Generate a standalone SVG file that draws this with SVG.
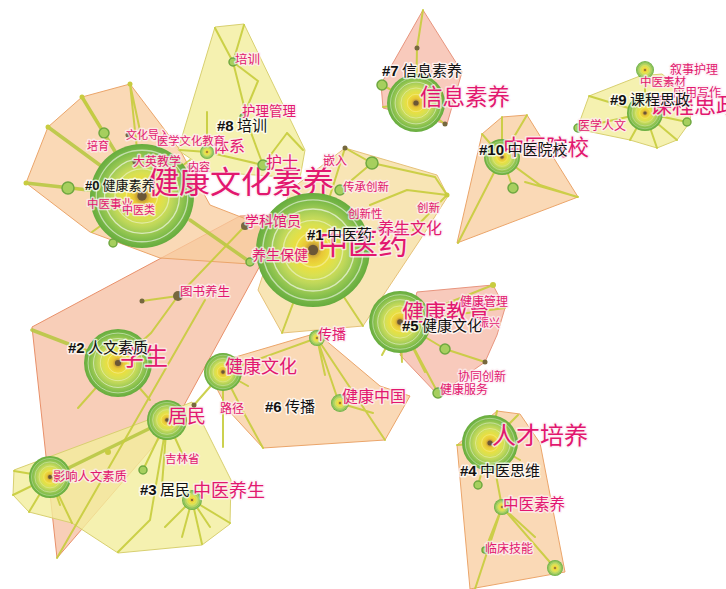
<svg xmlns="http://www.w3.org/2000/svg" xmlns:xlink="http://www.w3.org/1999/xlink" width="726" height="589" viewBox="0 0 726 589">
<defs>
<radialGradient id="rg">
<stop offset="0" stop-color="#7a5c34"/>
<stop offset="0.07" stop-color="#b8903a"/>
<stop offset="0.16" stop-color="#e8c636"/>
<stop offset="0.3" stop-color="#ecdf3e"/>
<stop offset="0.45" stop-color="#d8e052"/>
<stop offset="0.58" stop-color="#c0d85a"/>
<stop offset="0.7" stop-color="#a4cc56"/>
<stop offset="0.8" stop-color="#8cc24e"/>
<stop offset="0.9" stop-color="#76b646"/>
<stop offset="1" stop-color="#66ac3e"/>
</radialGradient>
<symbol id="ring" viewBox="-1 -1 2 2" overflow="visible">
<circle r="1" fill="url(#rg)"/>
<circle r="0.88" fill="none" stroke="#fff" stroke-opacity="0.55" stroke-width="0.025"/>
<circle r="0.72" fill="none" stroke="#fff" stroke-opacity="0.6" stroke-width="0.025"/>
<circle r="0.52" fill="none" stroke="#fff" stroke-opacity="0.45" stroke-width="0.025"/>
<circle r="0.3" fill="none" stroke="#fff" stroke-opacity="0.35" stroke-width="0.025"/>
<circle r="0.09" fill="#6a5636"/>
</symbol>
<style>
.h{stroke-width:1;stroke-linejoin:round}
.peach{fill:#f8cc9e;stroke:#eba56a;fill-opacity:.75}
.yel{fill:#f2ee9c;stroke:#d8d070;fill-opacity:.8}
.pink{fill:#f6b8a6;stroke:#e8957e;fill-opacity:.75}
.salmon{fill:#f3a57e;stroke:#e8906a;fill-opacity:.55}
.lo{fill:#f6dc9c;stroke:#e6c27a;fill-opacity:.75}
.e{fill:none;stroke:#c6cc3c;stroke-width:2;stroke-opacity:.9;stroke-linecap:round}
.e2{fill:none;stroke:#b8c844;stroke-width:3.5;stroke-opacity:.9;stroke-linecap:round}
.sn{fill:#a6cf5e;stroke:#6fa840;stroke-width:1.5}
.bd{fill:#76683e}
.yd{fill:#c8cc40}
text{font-family:"Noto Sans CJK SC","Noto Sans",sans-serif}
.kw{fill:#e2176f;stroke:#fdeef3;stroke-opacity:.75;stroke-width:3;paint-order:stroke;stroke-linejoin:round}
.cl{fill:#111;font-size:15px;stroke:#fff;stroke-opacity:.75;stroke-width:3;paint-order:stroke;stroke-linejoin:round}
.cl tspan.n{font-family:"Liberation Sans",Arial,sans-serif;font-weight:bold}
</style>
</defs>
<rect width="726" height="589" fill="#fff"/>

<g id="hulls">
<polygon id="hull-2" class="h salmon" points="32,327 240,216 300,214 262,262 176,420 57,558"/>
<polygon id="hull-0" class="h peach" points="130,84 82,97 48,127 26,183 90,232 160,258 250,264 300,240 210,205 180,150"/>
<polygon id="hull-8" class="h yel" points="215,27 244,24 305,150 300,178 210,172 178,150"/>
<polygon id="hull-1" class="h lo" points="345,148 437,175 448,196 420,240 363,326 282,333 258,290 290,190"/>
<polygon id="hull-7" class="h pink" points="423,10 462,72 447,124 383,108 381,84"/>
<polygon id="hull-10" class="h peach" points="502,117 527,115 578,197 457,243 482,134"/>
<polygon id="hull-9" class="h yel" points="589,96 577,129 630,140 657,148 677,140 690,122 692,98 662,74 640,76"/>
<polygon id="hull-5" class="h pink" points="417,292 493,285 505,308 497,335 485,362 438,395 400,355"/>
<polygon id="hull-6" class="h peach" points="205,366 317,333 380,386 410,396 385,440 263,448 228,410"/>
<polygon id="hull-3" class="h yel" points="14,470 148,420 192,402 231,480 230,524 202,545 118,553 72,523 29,512 13,495"/>
<polygon id="hull-4" class="h peach" points="497,411 520,414 540,443 565,572 470,589 457,445"/>
</g>

<g id="connectors">
<path class="e2" d="M142,196 L82,97 M142,196 L48,127 M142,196 L26,183 M50,477 L167,420 M190,220 L250,262 M32,330 L118,363"/>
<path class="e" d="M142,196 L130,84 M130,84 L142,140 M104,133 L82,97 M142,196 L92,232 M142,196 L113,243 M142,196 L190,160 M142,196 L68,188"/>
<path class="e" d="M215,28 L233,62 M244,25 L233,62 M233,62 L258,81 L243,117 M233,62 L250,130 L263,165 M287,133 L263,165 M287,133 L303,150 M207,112 L207,152 L263,165 M207,152 L180,150 M263,165 L300,178"/>
<path class="e" d="M423,10 L417,48 L416,103 M416,103 L445,124 M382,85 L416,103 M416,103 L383,107"/>
<path class="e" d="M502,157 L502,117 M502,157 L527,115 M502,157 L482,134 M502,157 L513,188 M502,157 L540,185 L577,197 M502,157 L458,243 M525,182 L578,197"/>
<path class="e" d="M645,113 L589,96 M645,113 L578,128 M645,113 L630,140 M645,113 L657,148 M645,113 L677,140 M645,113 L687,122 M645,113 L645,70"/>
<path class="e" d="M345,148 L372,163 L435,177 M372,163 L340,190 M435,177 L447,195 M407,190 L447,195 M407,190 L370,205 M413,230 L447,195 M313,250 L282,333 M313,250 L363,326 M313,250 L345,148"/>
<path class="e" d="M400,322 L493,285 M400,322 L505,308 M445,349 L485,362 M400,322 L445,349 M400,322 L438,393 M400,322 L425,372 M400,322 L402,362 M400,322 L382,355"/>
<path class="e" d="M223,372 L317,338 M317,338 L339,403 M317,338 L385,440 M339,403 L373,413 M223,372 L194,405 M223,372 L245,415 L263,448 M223,372 L248,386 M223,372 L223,447 M317,338 L325,375"/>
<path class="e" d="M118,363 L151,333 L178,296 M178,296 L142,301 M178,296 L245,226 M205,300 L57,558 M118,363 L78,408 M118,363 L150,400 M118,363 L92,382"/>
<path class="e" d="M167,420 L143,470 M167,420 L150,520 L118,552 M167,420 L162,485 M167,420 L185,460 M192,500 L165,527 M192,500 L182,537 M192,500 L202,544 M192,500 L210,527 M192,500 L230,523 M50,477 L14,471 M50,477 L13,495 M50,477 L29,512 M50,477 L60,505 M50,477 L72,523"/>
<path class="e" d="M490,443 L497,411 M490,443 L518,415 M490,443 L457,445 M490,443 L502,507 M490,443 L478,485 M502,507 L475,589 M502,507 L485,550 M502,507 L555,568 M502,507 L535,537 M490,443 L520,460"/>
</g>

<g id="node-jiankangwenhuasuyang"><use xlink:href="#ring" x="90" y="144" width="104" height="104"/><text class="kw" x="148" y="193" font-size="31">健康文化素养</text></g>
<g id="node-zhongyiyao"><use xlink:href="#ring" x="256" y="193" width="114" height="114"/><text class="kw" x="318" y="254" font-size="30">中医药</text></g>
<g id="node-xuesheng"><use xlink:href="#ring" x="84" y="329" width="68" height="68"/><text class="kw" x="120" y="365" font-size="24">学生</text></g>
<g id="node-jiankangjiaoyu"><use xlink:href="#ring" x="369" y="291" width="62" height="62"/><text class="kw" x="402" y="320" font-size="22">健康教育</text></g>
<g id="node-xinxisuyang"><use xlink:href="#ring" x="387" y="74" width="58" height="58"/><text class="kw" x="420" y="105" font-size="22.5">信息素养</text></g>
<g id="node-rencaipeiyang"><use xlink:href="#ring" x="462" y="415" width="56" height="56"/><text class="kw" x="492" y="444" font-size="24">人才培养</text></g>
<g id="node-yingxiang"><use xlink:href="#ring" x="29" y="456" width="42" height="42"/><text class="kw" x="53" y="481" font-size="12.3">影响人文素质</text></g>
<g id="node-jumin"><use xlink:href="#ring" x="147" y="400" width="40" height="40"/><text class="kw" x="168" y="423" font-size="19">居民</text></g>
<g id="node-jiankangwenhua"><use xlink:href="#ring" x="204" y="353" width="38" height="38"/><text class="kw" x="225" y="373" font-size="18">健康文化</text></g>
<g id="node-zhongyiyuanxiao"><use xlink:href="#ring" x="484" y="139" width="36" height="36"/><text class="kw" x="503" y="155" font-size="21.5">中医院校</text></g>
<g id="node-kechengsizheng"><use xlink:href="#ring" x="627" y="95" width="36" height="36"/><text class="kw" x="650" y="113" font-size="22">课程思政</text></g>
<g id="node-zhongyiyangsheng"><use xlink:href="#ring" x="182" y="490" width="20" height="20"/><text class="kw" x="193" y="497" font-size="18">中医养生</text></g>
<g id="node-jiankangzhongguo"><use xlink:href="#ring" x="331" y="394" width="18" height="18"/><text class="kw" x="342" y="402" font-size="16">健康中国</text></g>
<g id="node-chuanbo"><use xlink:href="#ring" x="309" y="330" width="16" height="16"/><text class="kw" x="318" y="339" font-size="14">传播</text></g>
<g id="node-zhongyisuyang"><use xlink:href="#ring" x="494" y="499" width="16" height="16"/><text class="kw" x="503" y="510" font-size="15.5">中医素养</text></g>
<g id="node-tixi"><use xlink:href="#ring" x="200" y="145" width="14" height="14"/><text class="kw" x="213" y="152" font-size="16">体系</text></g>
<g id="node-hushi"><circle class="sn" cx="263" cy="165" r="5"/><text class="kw" x="266" y="168" font-size="16">护士</text></g>
<g id="node-peixun"><circle class="sn" cx="233" cy="62" r="4"/><text class="kw" x="235" y="64" font-size="12.5">培训</text></g>
<g id="node-huliguanli"><circle class="sn" cx="243" cy="117" r="3"/><text class="kw" x="242" y="116" font-size="13.5">护理管理</text></g>
<g id="node-wenhuadaoru"><circle class="bd" cx="128" cy="135" r="2.5"/><text class="kw" x="126" y="139" font-size="11">文化导入</text></g>
<g id="node-yixuewenhua"><circle class="bd" cx="160" cy="141" r="2.5"/><text class="kw" x="157" y="145" font-size="11.3">医学文化教育</text></g>
<g id="node-peiyu"><circle class="sn" cx="104" cy="133" r="5"/><text class="kw" x="87" y="150" font-size="11">培育</text></g>
<g id="node-daying"><circle class="bd" cx="135" cy="162" r="2.5"/><text class="kw" x="133" y="166" font-size="12">大英教学</text></g>
<g id="node-neirong"><circle class="bd" cx="190" cy="167" r="2.5"/><text class="kw" x="188" y="171" font-size="11">内容</text></g>
<g id="node-zhongyishiye"><circle class="bd" cx="90" cy="204" r="2.5"/><text class="kw" x="87" y="208" font-size="11.5">中医事业</text></g>
<g id="node-zhongyilei"><circle class="bd" cx="125" cy="210" r="2.5"/><text class="kw" x="122" y="214" font-size="11">中医类</text></g>
<g id="node-small0"><circle class="sn" cx="68" cy="188" r="6"/><circle class="sn" cx="113" cy="243" r="4"/><circle class="yd" cx="130" cy="84" r="2.5"/><circle class="yd" cx="82" cy="97" r="2.5"/><circle class="yd" cx="48" cy="127" r="2.5"/><circle class="yd" cx="26" cy="183" r="2.5"/></g>
<g id="node-xuekeguanyuan"><circle class="bd" cx="245" cy="226" r="4"/><text class="kw" x="245" y="226" font-size="14">学科馆员</text></g>
<g id="node-yangshengbaojian"><circle class="sn" cx="250" cy="262" r="4"/><text class="kw" x="252" y="260" font-size="14">养生保健</text></g>
<g id="node-qianru"><circle class="sn" cx="372" cy="163" r="6"/><text class="kw" x="323" y="165" font-size="12">嵌入</text></g>
<g id="node-chuancheng"><circle class="sn" cx="340" cy="190" r="5"/><text class="kw" x="343" y="191" font-size="11.5">传承创新</text></g>
<g id="node-chuangxinxing"><circle class="bd" cx="350" cy="214" r="2.5"/><text class="kw" x="348" y="218" font-size="11.5">创新性</text></g>
<g id="node-chuangxin"><circle class="bd" cx="420" cy="208" r="2.5"/><circle class="bd" cx="345" cy="148" r="2.5"/><circle class="yd" cx="447" cy="195" r="2.5"/><text class="kw" x="417" y="212" font-size="11.5">创新</text></g>
<g id="node-yangshengwenhua"><circle class="bd" cx="380" cy="228" r="2.5"/><text class="kw" x="378" y="234" font-size="16">养生文化</text></g>
<g id="node-tushuyangsheng"><circle class="bd" cx="178" cy="296" r="5"/><circle class="bd" cx="142" cy="301" r="2.5"/><text class="kw" x="180" y="296" font-size="12.5">图书养生</text></g>
<g id="node-lujing"><circle class="bd" cx="194" cy="405" r="2.5"/><text class="kw" x="220" y="413" font-size="12">路径</text></g>
<g id="node-jilinsheng"><circle class="sn" cx="143" cy="470" r="4"/><circle class="yd" cx="108" cy="452" r="3"/><text class="kw" x="165" y="463" font-size="11.5">吉林省</text></g>
<g id="node-jiankangguanli"><circle class="yd" cx="493" cy="285" r="3"/><text class="kw" x="460" y="306" font-size="12">健康管理</text></g>
<g id="node-zhenxing"><text class="kw" x="478" y="327" font-size="11">振兴</text></g>
<g id="node-xietong"><circle class="sn" cx="445" cy="349" r="5"/><circle class="bd" cx="485" cy="362" r="2.5"/><text class="kw" x="458" y="381" font-size="12">协同创新</text></g>
<g id="node-jiankangfuwu"><circle class="sn" cx="438" cy="393" r="5"/><text class="kw" x="440" y="394" font-size="12">健康服务</text></g>
<g id="node-linchuang"><circle class="sn" cx="485" cy="550" r="3"/><circle class="sn" cx="478" cy="485" r="4"/><text class="kw" x="485" y="553" font-size="12">临床技能</text></g>
<g id="node-small4"><use xlink:href="#ring" x="547" y="560" width="16" height="16"/></g>
<g id="node-xushihuli"><use xlink:href="#ring" x="636" y="61" width="18" height="18"/><text class="kw" x="670" y="74" font-size="12">叙事护理</text></g>
<g id="node-zhongyisucai"><text class="kw" x="640" y="86" font-size="11.5">中医素材</text></g>
<g id="node-yingyongxiezuo"><circle class="sn" cx="687" cy="122" r="4"/><text class="kw" x="673" y="97" font-size="12">应用写作</text></g>
<g id="node-yixuerenwen"><circle class="sn" cx="578" cy="128" r="4"/><text class="kw" x="578" y="130" font-size="12">医学人文</text></g>
<g id="node-small10"><circle class="sn" cx="513" cy="188" r="5"/><circle class="sn" cx="382" cy="85" r="5"/><circle class="bd" cx="445" cy="124" r="2.5"/><circle class="bd" cx="417" cy="48" r="2.5"/></g>

<g id="cluster-labels">
<text class="cl" x="85" y="190" style="font-size:13px"><tspan class="n">#0</tspan> 健康素养</text>
<text class="cl" x="217" y="131"><tspan class="n">#8</tspan> 培训</text>
<text class="cl" x="382" y="76"><tspan class="n">#7</tspan> 信息素养</text>
<text class="cl" x="479" y="155"><tspan class="n">#10</tspan> 中医院校</text>
<text class="cl" x="610" y="105"><tspan class="n">#9</tspan> 课程思政</text>
<text class="cl" x="307" y="240"><tspan class="n">#1</tspan> 中医药</text>
<text class="cl" x="402" y="331"><tspan class="n">#5</tspan> 健康文化</text>
<text class="cl" x="68" y="353"><tspan class="n">#2</tspan> 人文素质</text>
<text class="cl" x="265" y="412"><tspan class="n">#6</tspan> 传播</text>
<text class="cl" x="140" y="495"><tspan class="n">#3</tspan> 居民</text>
<text class="cl" x="460" y="476"><tspan class="n">#4</tspan> 中医思维</text>
</g>
</svg>
